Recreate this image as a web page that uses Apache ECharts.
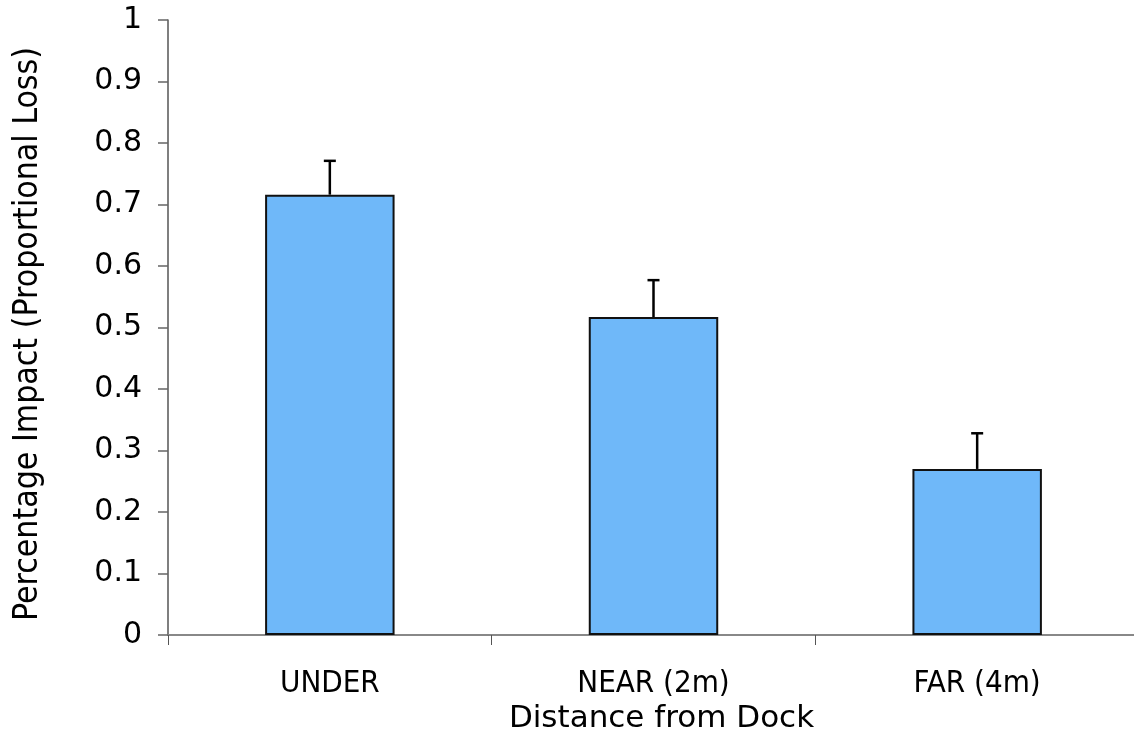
<!DOCTYPE html>
<html>
<head>
<meta charset="utf-8">
<script src="https://cdn.jsdelivr.net/npm/echarts@6/dist/echarts.min.js"></script>
<style>html,body{margin:0;padding:0;background:#fff;}#c{width:1134px;height:738px;}</style>
</head>
<body>
<div id="c"></div>
<script>
const categories = ['UNDER', 'NEAR (2m)', 'FAR (4m)'];
const values = [0.716, 0.517, 0.270];
const errors = [0.055, 0.060, 0.058];
const yTicks = [0, 0.1, 0.2, 0.3, 0.4, 0.5, 0.6, 0.7, 0.8, 0.9, 1];

const chart = echarts.init(document.getElementById('c'));
const narrow = '"DejaVu Sans Condensed", "Liberation Sans Narrow", sans-serif';
const wide = '"DejaVu Sans", Verdana, sans-serif';
chart.setOption({
  animation: false,
  grid: { left: 168, right: -5, top: 20, bottom: 103, containLabel: false, outerBoundsMode: 'none' },
  xAxis: {
    type: 'category',
    data: categories,
    name: 'Distance from Dock',
    nameLocation: 'middle',
    nameGap: 64,
    nameTextStyle: { fontFamily: wide, fontSize: 31, color: '#000', padding: [0, 0, 0, 16] },
    axisLine: { lineStyle: { color: '#888', width: 2 } },
    axisTick: { show: true, length: 10, lineStyle: { color: '#555', width: 1 } },
    axisLabel: { fontFamily: narrow, fontSize: 31, color: '#000', margin: 33 }
  },
  yAxis: {
    type: 'value',
    min: 0, max: 1, interval: 0.1,
    name: 'Percentage Impact (Proportional Loss)',
    nameLocation: 'middle',
    nameGap: 123,
    nameTextStyle: { fontFamily: narrow, fontSize: 33.5, color: '#000', padding: [0, 13, 0, 0] },
    splitLine: { show: false },
    axisLine: { show: true, lineStyle: { color: '#555', width: 1.5 } },
    axisTick: { show: true, length: 10, lineStyle: { color: '#666', width: 1.5 } },
    axisLabel: { fontFamily: wide, fontSize: 30, color: '#000', margin: 26,
      formatter: v => String(yTicks.reduce((a, b) => Math.abs(b - v) < Math.abs(a - v) ? b : a)) }
  },
  series: [
    {
      type: 'bar',
      data: values,
      barWidth: '40%',
      itemStyle: { color: '#6fb8f9', borderColor: '#111', borderWidth: 2 },
      z: 2
    },
    {
      type: 'custom',
      data: values.map((v, i) => [i, v, v + errors[i]]),
      renderItem: (params, api) => {
        const p0 = api.coord([api.value(0), api.value(1)]);
        const p1 = api.coord([api.value(0), api.value(2)]);
        const hw = 6;
        return {
          type: 'group',
          children: [
            { type: 'line', shape: { x1: p0[0], y1: p0[1], x2: p1[0], y2: p1[1] }, style: { stroke: '#000', lineWidth: 2.5 } },
            { type: 'line', shape: { x1: p1[0] - hw, y1: p1[1], x2: p1[0] + hw, y2: p1[1] }, style: { stroke: '#000', lineWidth: 2.5 } }
          ]
        };
      },
      z: 3
    }
  ]
});
</script>
</body>
</html>
